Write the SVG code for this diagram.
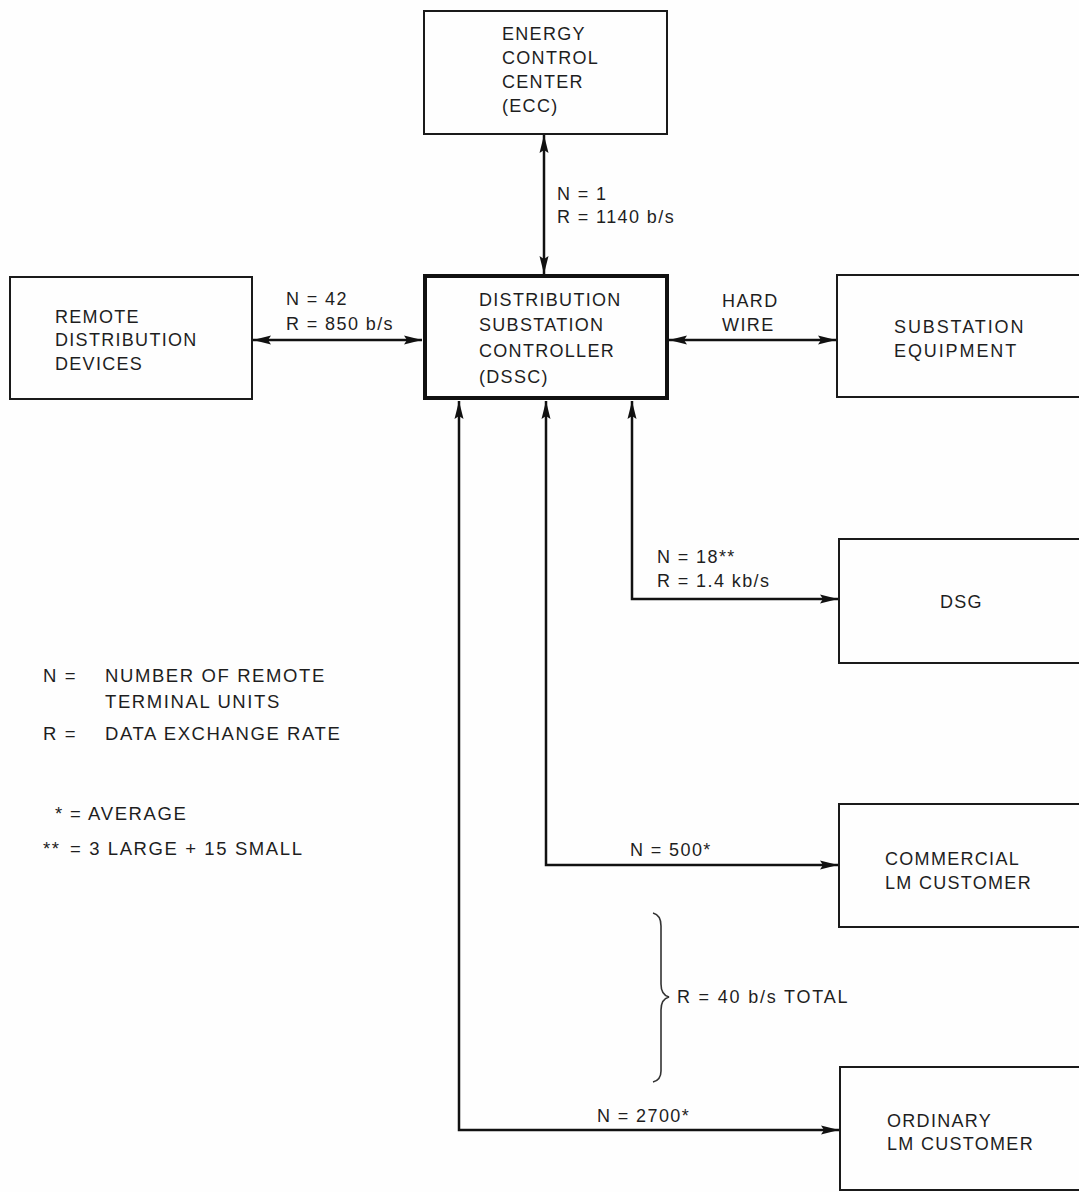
<svg xmlns="http://www.w3.org/2000/svg" width="1079" height="1192" viewBox="0 0 1079 1192">
<style>
  .box { fill: none; stroke: #1a1a1a; stroke-width: 2; }
  .thick { fill: none; stroke: #111; stroke-width: 4; }
  .conn { fill: none; stroke: #111; stroke-width: 2.5; }
  .brace { fill: none; stroke: #333; stroke-width: 1.6; }
  text { font-family: "Liberation Sans", "DejaVu Sans", sans-serif; font-size: 18px; fill: #1e1e1e; letter-spacing: 1.3px; }
  .lbl { font-size: 18px; letter-spacing: 1.4px; }
  .leg { font-size: 18.5px; letter-spacing: 1.6px; }
</style>
<defs>
  <marker id="ah" viewBox="0 0 18 10" refX="18" refY="5" markerWidth="18" markerHeight="10" markerUnits="userSpaceOnUse" orient="auto-start-reverse">
    <path d="M0,0.5 L18,5 L0,9.5 L3,5 z" fill="#111"/>
  </marker>
</defs>
<rect x="0" y="0" width="1079" height="1192" fill="#fefefe"/>

<g id="connectors">
  <line class="conn" x1="544" y1="135" x2="544" y2="274" marker-start="url(#ah)" marker-end="url(#ah)"/>
  <line class="conn" x1="253" y1="340" x2="422" y2="340" marker-start="url(#ah)" marker-end="url(#ah)"/>
  <line class="conn" x1="669" y1="340" x2="836" y2="340" marker-start="url(#ah)" marker-end="url(#ah)"/>
  <path class="conn" d="M632,401 V599 H838" marker-start="url(#ah)" marker-end="url(#ah)"/>
  <path class="conn" d="M546,401 V865 H838" marker-start="url(#ah)" marker-end="url(#ah)"/>
  <path class="conn" d="M459,401 V1130 H839" marker-start="url(#ah)" marker-end="url(#ah)"/>
  <text class="lbl" x="557" y="200">N = 1</text>
  <text class="lbl" x="557" y="223">R = 1140 b/s</text>
  <text class="lbl" x="286" y="305">N = 42</text>
  <text class="lbl" x="286" y="330">R = 850 b/s</text>
  <text class="lbl" x="722" y="307">HARD</text>
  <text class="lbl" x="722" y="331">WIRE</text>
  <text class="lbl" x="657" y="563">N = 18**</text>
  <text class="lbl" x="657" y="587">R = 1.4 kb/s</text>
  <text class="lbl" x="630" y="856">N = 500*</text>
  <text class="lbl" x="597" y="1122">N = 2700*</text>
</g>

<g id="ecc">
  <rect class="box" x="424" y="11" width="243" height="123"/>
  <text x="502" y="40">ENERGY</text>
  <text x="502" y="64">CONTROL</text>
  <text x="502" y="88">CENTER</text>
  <text x="502" y="112">(ECC)</text>
</g>

<g id="dssc">
  <rect class="thick" x="425" y="276" width="242" height="122"/>
  <text x="479" y="306">DISTRIBUTION</text>
  <text x="479" y="331">SUBSTATION</text>
  <text x="479" y="357">CONTROLLER</text>
  <text x="479" y="383">(DSSC)</text>
</g>

<g id="remote">
  <rect class="box" x="10" y="277" width="242" height="122"/>
  <text x="55" y="323">REMOTE</text>
  <text x="55" y="346">DISTRIBUTION</text>
  <text x="55" y="370">DEVICES</text>
</g>

<g id="substation">
  <rect class="box" x="837" y="275" width="260" height="122"/>
  <text x="894" y="333" style="letter-spacing:1.9px">SUBSTATION</text>
  <text x="894" y="357" style="letter-spacing:1.9px">EQUIPMENT</text>
</g>

<g id="dsg">
  <rect class="box" x="839" y="539" width="260" height="124"/>
  <text x="940" y="608">DSG</text>
</g>

<g id="commercial">
  <rect class="box" x="839" y="804" width="260" height="123"/>
  <text x="885" y="865">COMMERCIAL</text>
  <text x="885" y="889">LM CUSTOMER</text>
</g>

<g id="ordinary">
  <rect class="box" x="840" y="1067" width="260" height="123"/>
  <text x="887" y="1127">ORDINARY</text>
  <text x="887" y="1150">LM CUSTOMER</text>
</g>

<g id="brace">
  <path class="brace" d="M653,913 Q661,915 661,926 V984 Q661,995 669,997 Q661,999 661,1010 V1071 Q661,1080 653,1082"/>
  <text class="lbl" x="677" y="1003" style="letter-spacing:1.8px">R = 40 b/s TOTAL</text>
</g>

<g id="legend">
  <text class="leg" x="43" y="682">N =</text>
  <text class="leg" x="105" y="682">NUMBER OF REMOTE</text>
  <text class="leg" x="105" y="708">TERMINAL UNITS</text>
  <text class="leg" x="43" y="740">R =</text>
  <text class="leg" x="105" y="740">DATA EXCHANGE RATE</text>
  <text class="leg" x="55" y="820">*</text>
  <text class="leg" x="70" y="820">= AVERAGE</text>
  <text class="leg" x="43" y="855">**</text>
  <text class="leg" x="70" y="855">= 3 LARGE + 15 SMALL</text>
</g>
</svg>
